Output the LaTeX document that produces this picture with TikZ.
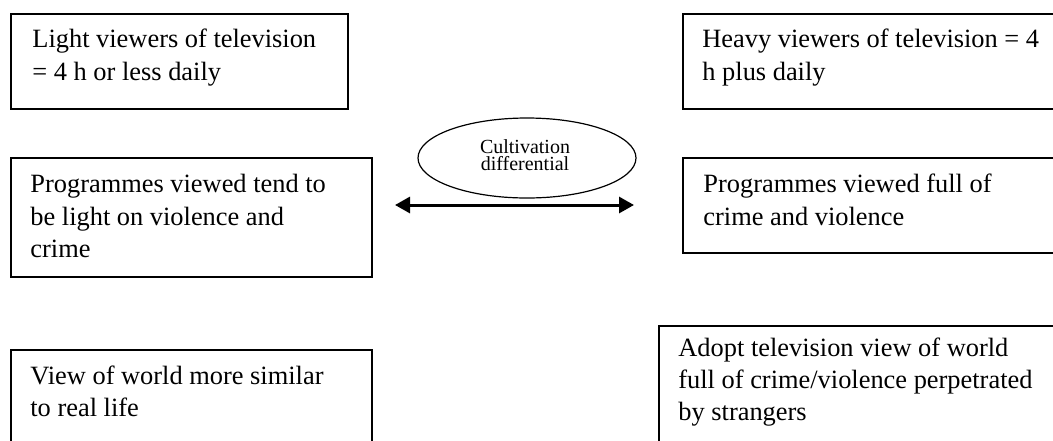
\documentclass[tikz,border=0pt]{standalone}
\usepackage{fontspec}
\setmainfont{Liberation Serif}
\usetikzlibrary{shapes.geometric,arrows.meta}
\tikzset{
  boxnode/.style={draw=black, line width=1pt, rectangle, inner sep=0pt, anchor=north west},
  boxtext/.style={anchor=north west, inner sep=0pt, align=left, font=\fontsize{13.2pt}{16.2pt}\selectfont},
  ovalnode/.style={draw=black, line width=0.6pt, ellipse, inner sep=0pt, minimum width=109pt, minimum height=40pt},
  ovaltext/.style={align=center, inner sep=0pt, font=\fontsize{10pt}{8.8pt}\selectfont},
  twoway/.style={line width=1.5pt, {Triangle[length=7.5pt,width=8pt]}-{Triangle[length=7.5pt,width=8pt]}}
}
\begin{document}
\begin{tikzpicture}[x=0.5pt,y=-0.5pt]
\useasboundingbox (0,0) rectangle (1053,440);
\clip (0,0) rectangle (1053,440);
% boxes
\node[boxnode, minimum width=168.5pt, minimum height=47.5pt] (b1) at (10,13) {};
\node[boxnode, minimum width=190pt, minimum height=47.5pt] (b2) at (682,13) {};
\node[boxnode, minimum width=180.5pt, minimum height=59.5pt] (b3) at (10,157) {};
\node[boxnode, minimum width=190pt, minimum height=47.5pt] (b4) at (682,157) {};
\node[boxnode, minimum width=180.5pt, minimum height=55pt] (b5) at (10,349) {};
\node[boxnode, minimum width=202pt, minimum height=70pt] (b6) at (658,325) {};
% texts
\node[boxtext] (t1) at (32,29) {Light viewers of television\\= 4 h or less daily};
\node[boxtext] (t2) at (702,29) {Heavy viewers of television = 4\\h plus daily};
\node[boxtext] (t3) at (30,174) {Programmes viewed tend to\\be light on violence and\\crime};
\node[boxtext] (t4) at (703,174) {Programmes viewed full of\\crime and violence};
\node[boxtext] (t5) at (30,365) {View of world more similar\\to real life};
\node[boxtext] (t6) at (678,337) {Adopt television view of world\\full of crime/violence perpetrated\\by strangers};
% ellipse
\node[ovalnode] (cd) at (527,158) {};
\node[ovaltext] (cdt) at (525,155) {Cultivation\\differential};
% arrow
\coordinate (al) at (395,205);
\coordinate (ar) at (634,205);
\draw[twoway] (al) -- (ar);
\end{tikzpicture}
\end{document}
